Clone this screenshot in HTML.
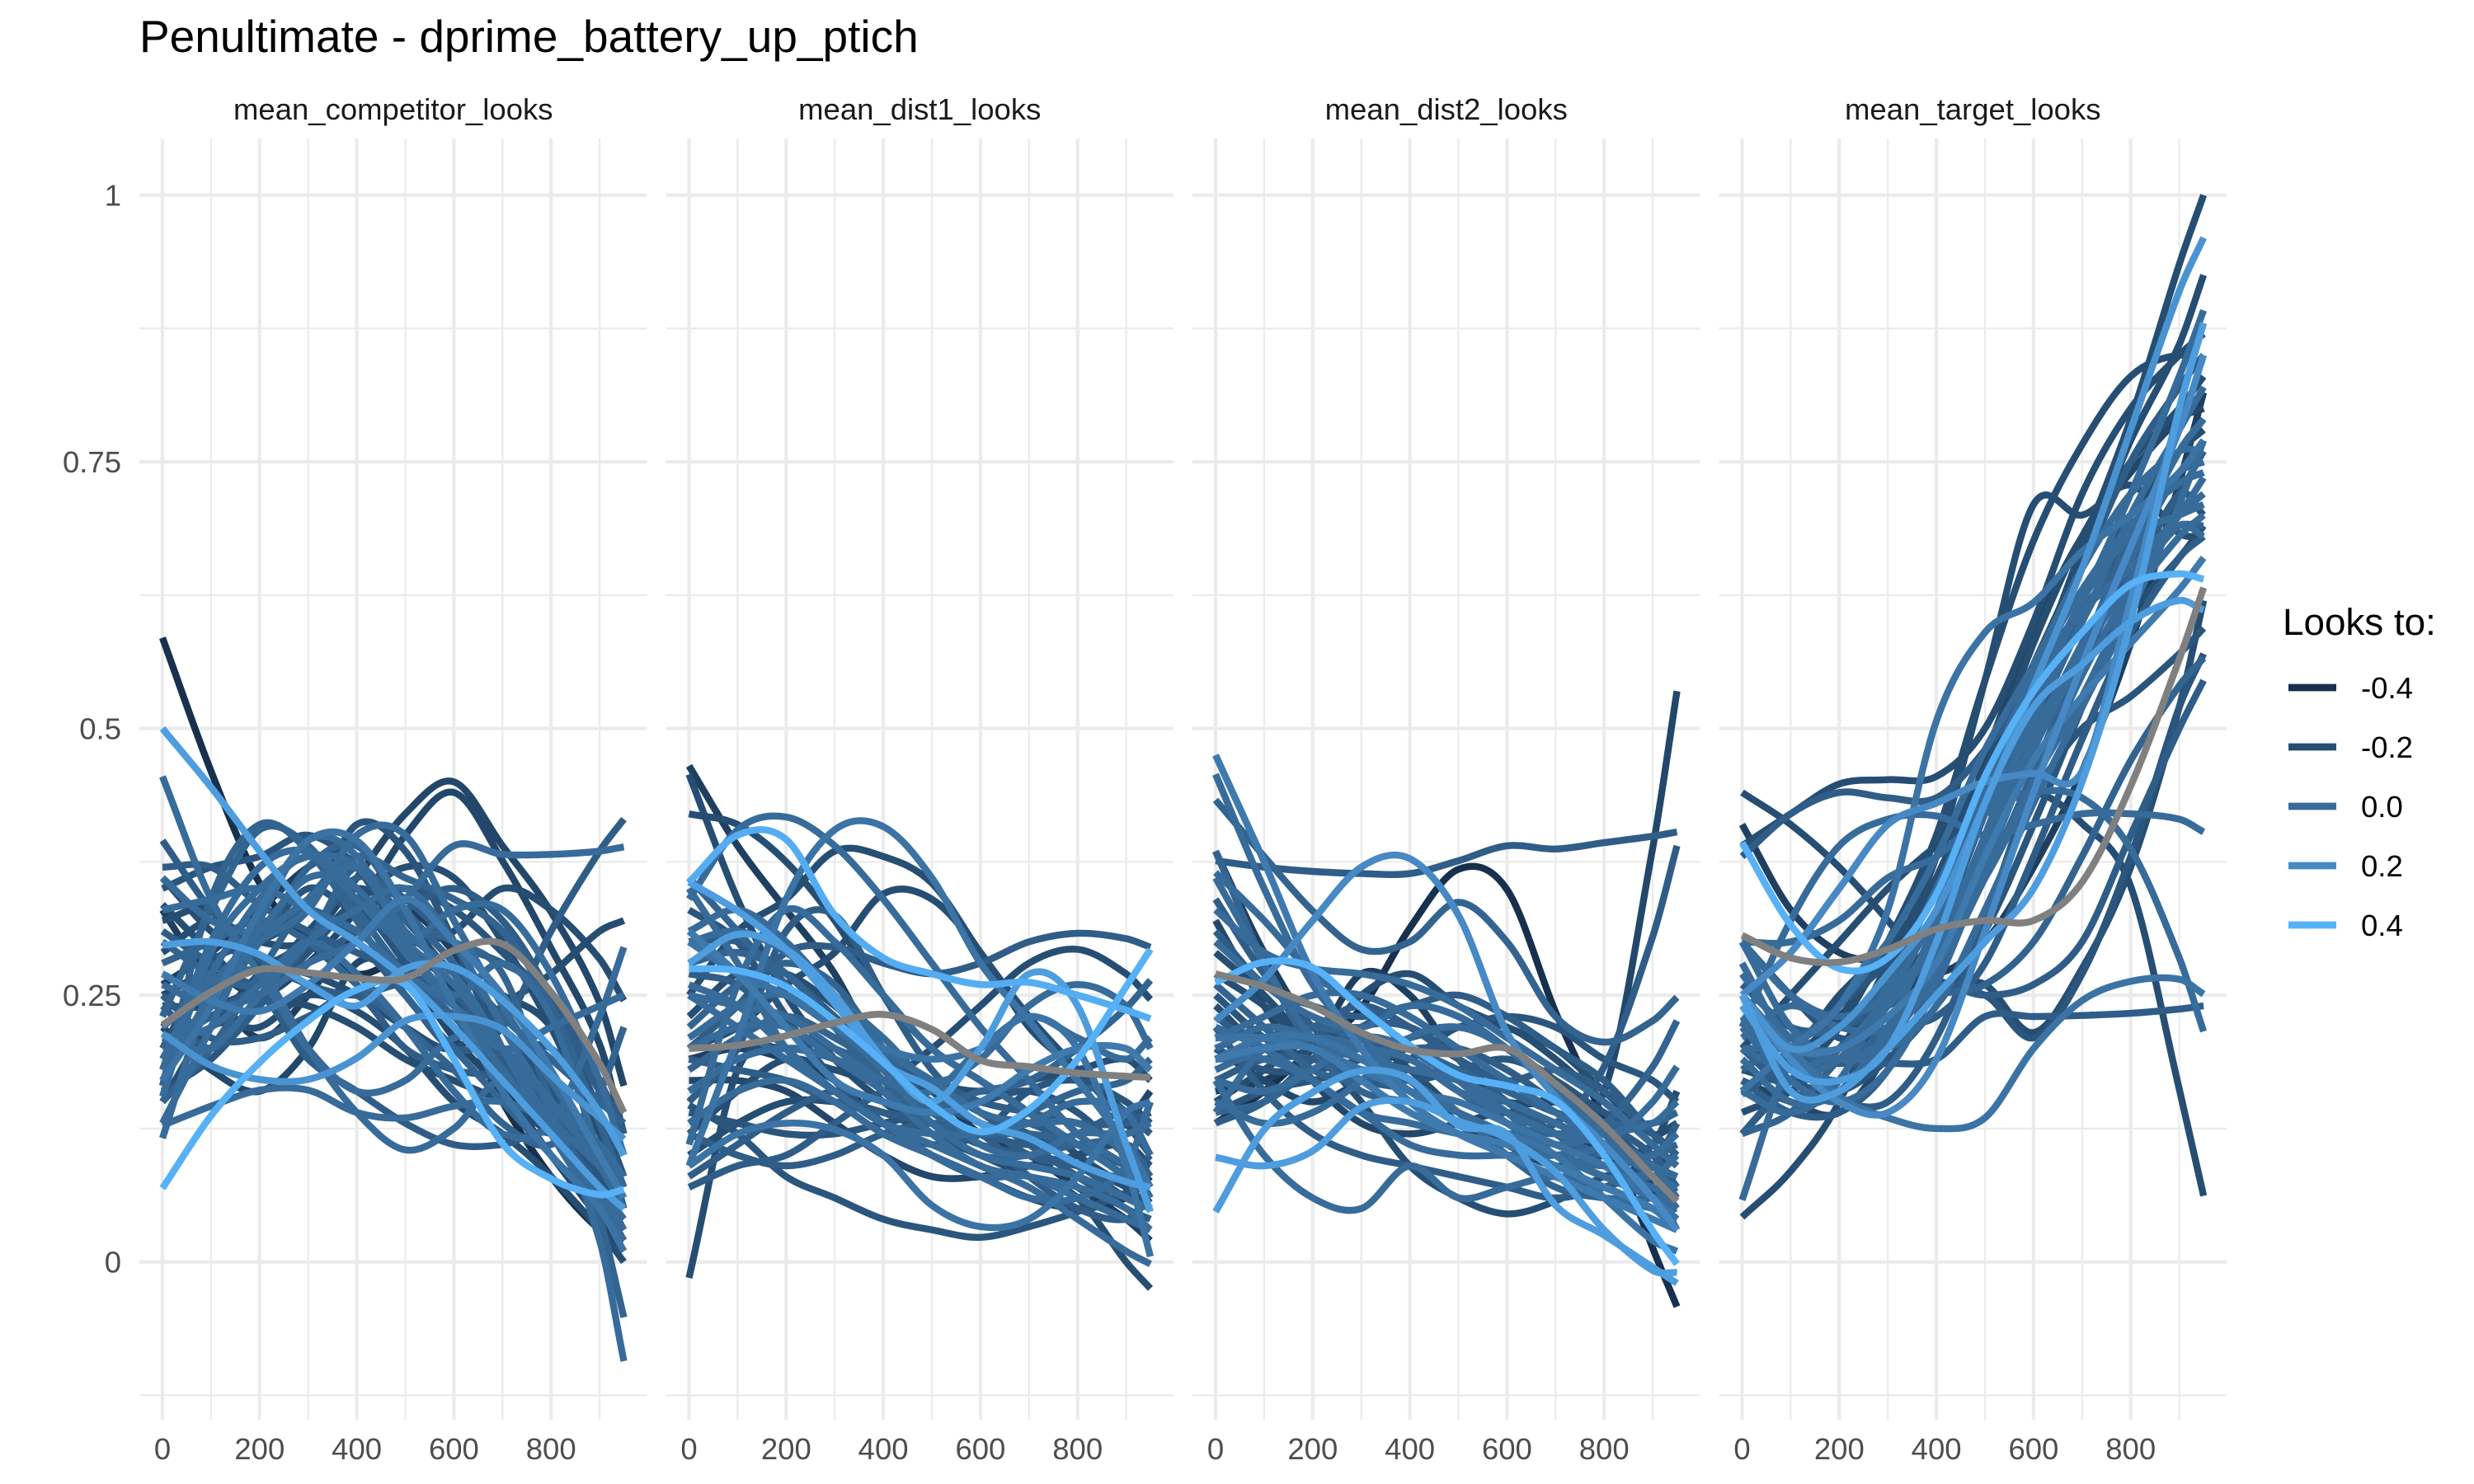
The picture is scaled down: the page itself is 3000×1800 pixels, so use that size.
<!DOCTYPE html>
<html lang="en">
<head>
<meta charset="utf-8">
<title>Penultimate - dprime_battery_up_ptich</title>
<style>
html,body{margin:0;padding:0;background:#fff}
svg{display:block;font-family:"Liberation Sans",Arial,sans-serif}
</style>
</head>
<body>
<svg id="chart" xmlns="http://www.w3.org/2000/svg" width="3000" height="1800" viewBox="0 0 3000 1800">
<rect width="3000" height="1800" fill="#ffffff"/>
<text x="169" y="63" font-size="55" fill="#000">Penultimate - dprime_battery_up_ptich</text>
<g id="panels"></g>
<g id="legend">
<text x="2768" y="770" font-size="45.8" fill="#000">Looks to:</text>
</g>
</svg>
<script>
const timeBins = [0,100,200,300,400,500,600,700,800,900,950];
const xMajorTicks = [0,200,400,600,800];
const xMinorTicks = [100,300,500,700,900];
const yMajorTicks = [0,0.25,0.5,0.75,1];
const yMinorTicks = [-0.125,0.125,0.375,0.625,0.875];
const yTickLabels = ['0','0.25','0.5','0.75','1'];
const facetNames = ['mean_competitor_looks','mean_dist1_looks','mean_dist2_looks','mean_target_looks'];
const legendValues = [-0.4,-0.2,0,0.2,0.4];
const legendLabels = ['-0.4','-0.2','0.0','0.2','0.4'];
const meanColor = '#808080';

const competitorMean = [.222,.253,.274,.271,.266,.266,.292,.298,.253,.186,.14];
const competitorTones = [-.4,-.3,-.3,-.25,-.25,-.2,-.2,-.15,0,-.1,0,0,-.05,-.05,0,.05,-.05,0,-.1,-.1,-.15,0,-.2,0,0,-.1,-.2,-.1,0,-.05,0,.1,0,0,-.25,.3,.3,.25,.42,-.1,-.15,-.05,-.2,0,-.1,-.2,0,-.05,-.15];
const competitorLooks = [
[.585,.46,.355,.3,.27,.28,.24,.15,.08,.03,.02],
[.33,.26,.21,.25,.31,.33,.29,.22,.16,.1,.06],
[.26,.29,.33,.37,.39,.33,.25,.17,.1,.06,.04],
[.19,.22,.27,.3,.36,.42,.45,.39,.328,.243,.165],
[.25,.27,.25,.28,.33,.4,.44,.376,.294,.204,.12],
[.36,.31,.28,.3,.33,.3,.31,.35,.33,.284,.245],
[.32,.33,.28,.27,.25,.22,.2,.24,.27,.31,.32],
[.2,.28,.3,.33,.41,.385,.3,.2,.13,.08,.05],
[.17,.25,.3,.33,.4,.4,.32,.24,.17,.1,.07],
[.17,.25,.3,.33,.3,.25,.2,.22,.31,.385,.415],
[.26,.24,.25,.28,.3,.34,.39,.382,.382,.385,.389],
[.455,.34,.27,.2,.16,.17,.21,.2,.15,.09,.05],
[.165,.34,.41,.385,.32,.25,.2,.15,.1,.05,.02],
[.23,.33,.405,.39,.33,.27,.23,.18,.13,.09,.06],
[.13,.22,.32,.395,.38,.3,.24,.18,.12,.07,.04],
[.17,.24,.33,.395,.395,.33,.24,.16,.1,.05,.01],
[.3,.27,.26,.3,.37,.32,.3,.27,.15,.04,-.052],
[.21,.2,.25,.3,.33,.35,.3,.22,.14,.02,-.093],
[.395,.33,.285,.26,.25,.26,.24,.19,.13,.06,.02],
[.37,.37,.335,.31,.29,.27,.25,.2,.14,.09,.06],
[.35,.37,.38,.4,.37,.3,.26,.22,.16,.1,.08],
[.33,.34,.35,.33,.31,.27,.24,.2,.15,.11,.08],
[.335,.29,.25,.24,.22,.19,.17,.15,.12,.08,.06],
[.128,.146,.161,.161,.14,.135,.146,.15,.13,.09,.07],
[.116,.25,.27,.2,.14,.105,.125,.17,.12,.06,.03],
[.2,.23,.25,.19,.16,.13,.11,.11,.12,.07,.03],
[.15,.22,.22,.25,.235,.2,.15,.12,.08,.03,0],
[.25,.21,.21,.23,.25,.2,.18,.17,.13,.06,.03],
[.21,.22,.26,.3,.27,.22,.16,.12,.13,.23,.295],
[.28,.3,.32,.3,.26,.22,.18,.13,.11,.16,.22],
[.36,.32,.31,.34,.37,.3,.24,.2,.22,.24,.25],
[.27,.245,.235,.26,.3,.34,.3,.25,.18,.1,.06],
[.18,.3,.37,.385,.35,.3,.26,.2,.13,.06,.03],
[.155,.29,.35,.38,.37,.31,.27,.2,.12,.05,.02],
[.22,.18,.16,.2,.28,.27,.21,.16,.1,.04,.01],
[.5,.445,.385,.33,.3,.265,.22,.17,.12,.07,.05],
[.297,.3,.288,.26,.24,.275,.276,.245,.2,.14,.1],
[.214,.184,.171,.171,.191,.226,.23,.218,.175,.135,.115],
[.069,.137,.187,.226,.255,.26,.19,.111,.078,.063,.068],
[.24,.2,.24,.3,.36,.34,.3,.28,.25,.17,.12],
[.27,.25,.3,.35,.33,.35,.33,.29,.24,.14,.08],
[.15,.2,.27,.34,.38,.36,.34,.31,.24,.13,.07],
[.29,.32,.3,.3,.34,.37,.36,.3,.22,.12,.07],
[.19,.27,.34,.38,.34,.3,.33,.33,.27,.17,.1],
[.31,.28,.26,.28,.31,.33,.35,.32,.25,.16,.14],
[.24,.24,.26,.31,.35,.32,.27,.25,.22,.13,.05],
[.22,.26,.31,.36,.35,.29,.25,.28,.23,.1,.05],
[.2,.24,.3,.37,.39,.33,.28,.23,.19,.15,.13],
[.16,.19,.24,.29,.33,.28,.22,.2,.2,.14,.1]
];

const distOneMean = [.2,.203,.212,.224,.232,.218,.189,.183,.177,.174,.173];
const distOneTones = [-.3,-.2,-.2,0,.05,.38,-.2,-.2,-.1,-.1,-.2,-.05,.3,.42,.3,.05,-.15,-.2,0,0,.05,0,0,.1,-.1,-.1,-.3,-.25,0,-.1,0,-.05,-.15,0,0,0,-.1,-.2,-.05,0,-.15,-.1,0,-.05,-.2,-.1];
const distOneLooks = [
[.465,.39,.33,.27,.19,.16,.12,.1,.07,.04,.02],
[.457,.34,.25,.19,.15,.12,.1,.08,.06,0,-.025],
[.42,.41,.375,.32,.25,.2,.17,.14,.1,.07,.05],
[.34,.405,.417,.39,.34,.28,.22,.17,.12,.09,.07],
[.09,.21,.34,.405,.408,.36,.28,.226,.17,.11,.07],
[.356,.4,.396,.325,.285,.27,.26,.262,.25,.236,.228],
[.25,.31,.34,.385,.38,.355,.29,.23,.18,.13,.1],
[.2,.22,.26,.29,.345,.34,.29,.22,.18,.14,.12],
[.15,.2,.31,.325,.25,.18,.14,.13,.11,.09,.08],
[.2,.24,.29,.295,.28,.27,.28,.3,.308,.303,.295],
[.12,.16,.19,.18,.17,.2,.24,.28,.293,.27,.246],
[.22,.26,.28,.26,.2,.15,.16,.17,.2,.238,.264],
[.28,.307,.293,.25,.19,.15,.2,.27,.24,.11,.047],
[.275,.273,.258,.226,.187,.147,.122,.143,.19,.258,.293],
[.356,.329,.293,.242,.187,.163,.13,.116,.092,.075,.07],
[.09,.12,.13,.124,.1,.053,.033,.04,.08,.14,.15],
[.147,.12,.08,.06,.04,.03,.023,.033,.047,.065,.076],
[-.015,.18,.2,.19,.17,.16,.13,.12,.09,.07,.05],
[.11,.26,.33,.3,.25,.2,.17,.14,.11,.08,.06],
[.35,.28,.2,.16,.13,.11,.09,.07,.04,.01,-.002],
[.3,.27,.25,.22,.2,.19,.2,.23,.2,.09,.005],
[.3,.31,.29,.25,.21,.17,.19,.24,.26,.24,.2],
[.25,.24,.23,.2,.17,.16,.2,.23,.21,.19,.21],
[.31,.27,.22,.17,.15,.14,.15,.18,.2,.2,.18],
[.07,.09,.1,.13,.16,.17,.14,.11,.08,.05,.04],
[.08,.11,.14,.16,.15,.13,.11,.1,.09,.06,.05],
[.19,.2,.19,.17,.13,.1,.08,.06,.05,.06,.08],
[.17,.17,.16,.13,.1,.08,.08,.09,.1,.13,.16],
[.13,.16,.17,.15,.12,.1,.08,.06,.06,.09,.15],
[.19,.18,.17,.15,.14,.13,.12,.11,.12,.14,.12],
[.25,.22,.19,.16,.13,.12,.12,.13,.15,.14,.1],
[.28,.29,.27,.22,.16,.13,.1,.1,.11,.11,.08],
[.33,.3,.23,.17,.13,.11,.12,.16,.17,.15,.13],
[.21,.24,.25,.22,.18,.13,.1,.09,.08,.06,.05],
[.2,.22,.22,.19,.16,.12,.09,.08,.07,.05,.03],
[.26,.24,.2,.16,.13,.1,.08,.08,.06,.04,.03],
[.3,.3,.27,.23,.19,.17,.15,.14,.13,.13,.14],
[.23,.27,.27,.24,.2,.17,.16,.17,.18,.19,.17],
[.18,.21,.23,.21,.18,.14,.12,.14,.16,.17,.19],
[.31,.33,.3,.25,.2,.17,.14,.13,.13,.1,.06],
[.14,.13,.12,.12,.13,.14,.15,.16,.14,.1,.09],
[.27,.26,.22,.2,.18,.15,.13,.1,.09,.08,.1],
[.16,.19,.2,.19,.17,.15,.11,.1,.12,.12,.13],
[.36,.31,.26,.22,.17,.13,.12,.12,.11,.08,.07],
[.1,.13,.15,.15,.14,.12,.1,.09,.1,.11,.09],
[.12,.1,.09,.1,.12,.13,.12,.08,.05,.04,.06]
];

const distTwoMean = [.27,.258,.24,.215,.199,.195,.2,.167,.128,.08,.057];
const distTwoTones = [.1,0,-.05,-.1,.2,-.4,-.25,-.1,-.05,0,.42,.3,.3,0,-.2,-.05,-.3,0,0,-.1,0,-.2,-.15,-.05,0,0,.05,0,-.1,-.2,-.1,.1,.05,0,-.15,-.3,-.1,0,-.2,-.05,-.15,0,-.1,0,-.25,0];
const distTwoLooks = [
[.475,.375,.27,.2,.15,.12,.1,.08,.06,.04,.03],
[.457,.35,.26,.21,.17,.14,.1,.08,.06,.05,.04],
[.433,.38,.329,.293,.3,.337,.3,.23,.206,.226,.248],
[.376,.37,.366,.364,.364,.376,.39,.387,.393,.399,.403],
[.226,.265,.32,.37,.378,.325,.215,.155,.11,.06,.03],
[.13,.16,.2,.238,.313,.368,.349,.234,.132,.013,-.042],
[.2,.17,.15,.17,.2,.17,.15,.15,.16,.388,.535],
[.17,.19,.19,.17,.16,.13,.12,.13,.183,.305,.39],
[.14,.15,.18,.2,.19,.16,.13,.12,.13,.183,.226],
[.22,.2,.17,.14,.11,.1,.1,.1,.11,.15,.183],
[.262,.281,.276,.238,.203,.175,.165,.151,.1,.029,-.002],
[.098,.09,.104,.145,.15,.132,.116,.084,.03,-.008,-.01],
[.047,.124,.159,.179,.171,.128,.12,.053,.025,-.005,-.02],
[.17,.1,.06,.05,.09,.06,.07,.08,.07,.05,.05],
[.29,.25,.2,.15,.09,.06,.045,.057,.08,.09,.1],
[.385,.28,.2,.16,.15,.14,.1,.07,.06,.06,.07],
[.385,.29,.22,.2,.17,.13,.1,.08,.07,.05,.04],
[.365,.32,.27,.24,.2,.17,.14,.1,.09,.08,.1],
[.33,.29,.275,.27,.26,.24,.21,.18,.15,.11,.09],
[.31,.26,.24,.23,.24,.25,.23,.2,.17,.12,.1],
[.21,.23,.25,.25,.23,.2,.17,.14,.11,.08,.05],
[.24,.2,.2,.25,.27,.24,.22,.2,.16,.12,.13],
[.2,.18,.18,.19,.21,.22,.23,.22,.19,.17,.15],
[.19,.21,.22,.21,.2,.18,.16,.14,.13,.13,.14],
[.2,.22,.21,.19,.18,.17,.15,.13,.11,.09,.08],
[.18,.2,.21,.2,.16,.14,.12,.1,.08,.06,.05],
[.21,.21,.2,.18,.16,.15,.13,.11,.09,.06,.04],
[.19,.19,.17,.14,.13,.12,.11,.1,.09,.1,.12],
[.22,.16,.12,.1,.09,.08,.07,.06,.07,.09,.13],
[.15,.18,.21,.21,.18,.14,.11,.09,.1,.11,.16],
[.13,.15,.19,.22,.22,.19,.15,.12,.09,.07,.06],
[.19,.2,.2,.17,.14,.12,.11,.09,.07,.05,.03],
[.19,.21,.21,.19,.16,.13,.12,.1,.06,.02,.01],
[.14,.2,.21,.2,.19,.16,.14,.12,.11,.08,.06],
[.14,.16,.17,.18,.17,.18,.19,.17,.14,.12,.1],
[.16,.17,.2,.27,.25,.19,.15,.15,.12,.07,.03],
[.34,.27,.22,.2,.2,.2,.18,.15,.13,.1,.07],
[.3,.26,.23,.22,.24,.23,.2,.16,.12,.09,.06],
[.27,.24,.2,.18,.19,.22,.22,.19,.15,.11,.09],
[.26,.22,.18,.17,.18,.17,.14,.12,.1,.1,.11],
[.25,.21,.19,.22,.24,.23,.2,.17,.13,.09,.08],
[.17,.16,.18,.21,.2,.17,.13,.11,.12,.13,.15],
[.23,.2,.22,.24,.22,.19,.17,.18,.16,.12,.1],
[.36,.28,.21,.19,.17,.14,.12,.1,.08,.07,.05],
[.32,.24,.17,.13,.12,.13,.14,.13,.1,.06,.04],
[.15,.13,.14,.17,.21,.22,.2,.16,.12,.08,.07]
];

const targetMean = [.306,.285,.281,.293,.312,.32,.32,.356,.446,.565,.632];
const targetTones = [-.2,.25,-.2,0,.3,-.2,-.2,.05,.42,-.2,-.3,-.2,-.1,0,.2,.05,-.1,-.2,0,-.2,0,-.15,-.1,0,0,0,.2,.1,.3,-.1,-.25,-.05,-.15,-.05,0,0,0,-.2,-.1,0,0,-.05,-.15,-.2,0,-.1,0];
const targetLooks = [
[.22,.2,.25,.3,.38,.46,.55,.67,.79,.935,1],
[.25,.2,.22,.27,.33,.43,.54,.65,.78,.91,.96],
[.18,.17,.2,.27,.36,.46,.56,.66,.77,.86,.925],
[.2,.18,.2,.25,.33,.44,.53,.62,.72,.83,.892],
[.25,.16,.16,.2,.25,.3,.35,.45,.6,.8,.88],
[.12,.17,.22,.3,.4,.545,.676,.766,.83,.85,.84],
[.2,.19,.2,.28,.38,.545,.71,.7,.728,.683,.68],
[.16,.2,.24,.33,.507,.59,.618,.666,.7,.74,.77],
[.393,.316,.275,.285,.345,.455,.535,.59,.635,.645,.64],
[.44,.41,.37,.32,.265,.26,.215,.275,.37,.52,.62],
[.41,.33,.29,.28,.27,.3,.37,.46,.58,.73,.815],
[.39,.42,.448,.452,.455,.5,.6,.72,.8,.85,.87],
[.38,.42,.44,.435,.435,.48,.55,.65,.75,.82,.85],
[.22,.32,.39,.415,.418,.4,.41,.42,.42,.415,.403],
[.25,.29,.35,.41,.43,.45,.458,.46,.62,.8,.88],
[.25,.2,.155,.135,.125,.135,.2,.245,.263,.265,.251],
[.157,.185,.186,.186,.19,.23,.23,.231,.233,.237,.24],
[.2,.25,.3,.35,.39,.42,.44,.411,.352,.162,.062],
[.3,.3,.32,.36,.38,.42,.44,.435,.387,.285,.216],
[.042,.085,.15,.26,.36,.46,.58,.68,.75,.8,.83],
[.058,.19,.24,.3,.38,.48,.56,.65,.72,.76,.76],
[.3,.25,.21,.22,.25,.25,.21,.27,.38,.52,.57],
[.26,.22,.22,.24,.26,.25,.26,.3,.4,.5,.545],
[.23,.18,.19,.24,.3,.4,.52,.62,.68,.7,.71],
[.27,.21,.2,.24,.31,.42,.5,.57,.64,.7,.735],
[.22,.17,.15,.18,.26,.37,.48,.57,.67,.76,.79],
[.25,.19,.15,.14,.19,.31,.44,.56,.67,.78,.85],
[.24,.2,.2,.23,.28,.38,.47,.53,.58,.63,.66],
[.24,.18,.17,.2,.3,.43,.52,.56,.6,.62,.611],
[.2,.16,.15,.15,.21,.32,.45,.56,.65,.72,.76],
[.17,.15,.14,.2,.32,.47,.59,.68,.74,.79,.8],
[.18,.21,.22,.26,.33,.42,.52,.61,.66,.69,.69],
[.16,.2,.24,.28,.32,.37,.44,.5,.53,.57,.594],
[.12,.14,.19,.23,.25,.26,.3,.38,.47,.54,.566],
[.2,.2,.19,.21,.27,.36,.45,.53,.62,.68,.7],
[.21,.24,.22,.22,.27,.39,.49,.58,.66,.74,.75],
[.3,.25,.23,.25,.3,.36,.45,.55,.63,.69,.68],
[.14,.16,.2,.25,.31,.42,.53,.62,.7,.76,.78],
[.17,.14,.14,.18,.27,.38,.5,.6,.68,.74,.75],
[.28,.2,.17,.21,.29,.4,.51,.6,.7,.78,.82],
[.19,.15,.16,.22,.32,.44,.55,.63,.69,.73,.74],
[.23,.2,.19,.22,.28,.36,.46,.57,.68,.76,.79],
[.2,.17,.16,.19,.24,.31,.41,.52,.63,.72,.7],
[.25,.2,.23,.29,.36,.44,.5,.56,.61,.66,.69],
[.16,.14,.17,.26,.35,.45,.55,.61,.65,.7,.72],
[.12,.17,.2,.22,.23,.28,.38,.49,.59,.66,.68],
[.3,.22,.19,.2,.24,.33,.43,.52,.61,.71,.77]
];

const facetTones = [competitorTones, distOneTones, distTwoTones, targetTones];
const facetLooks = [competitorLooks, distOneLooks, distTwoLooks, targetLooks];
const facetMeans = [competitorMean, distOneMean, distTwoMean, targetMean];

const SVG_NS = 'http://www.w3.org/2000/svg';
const PANEL_FIRST_LEFT = 169, PANEL_PITCH = 638.5, PANEL_WIDTH = 615.5;
const PANEL_TOP = 168, PANEL_BOTTOM = 1722;
const X_PAD = 28, X_PER_UNIT = 0.589;
const Y_ZERO = 1530.6, Y_PER_UNIT = 1294;
const LINE_WIDTH = 8.4;

function panelLeft(i){ return PANEL_FIRST_LEFT + i * PANEL_PITCH; }
function xScale(i, t){ return panelLeft(i) + X_PAD + t * X_PER_UNIT; }
function yScale(v){ return Y_ZERO - v * Y_PER_UNIT; }

function toneColor(t){
  const stops = [[-.4,[22,48,77]],[-.2,[38,78,115]],[0,[55,107,154]],[.2,[70,137,196]],[.4,[86,177,247]]];
  const c = Math.max(-.4, Math.min(.44, t));
  for (let k = 0; k < stops.length - 1; k++) {
    if (c <= stops[k+1][0] || k === stops.length - 2) {
      const f = Math.min(1, (c - stops[k][0]) / (stops[k+1][0] - stops[k][0]));
      const rgb = stops[k][1].map((a, j) => Math.round(a + (stops[k+1][1][j] - a) * f));
      return 'rgb(' + rgb.join(',') + ')';
    }
  }
}

function smoothPath(i, values){
  const px = timeBins.map(t => xScale(i, t));
  const py = values.map(yScale);
  const n = px.length;
  const slope = [];
  for (let k = 0; k < n; k++) {
    const a = Math.max(0, k - 1), b = Math.min(n - 1, k + 1);
    slope.push((py[b] - py[a]) / (px[b] - px[a]));
  }
  let d = 'M' + px[0].toFixed(1) + ' ' + py[0].toFixed(1);
  for (let k = 0; k < n - 1; k++) {
    const h = (px[k+1] - px[k]) / 3;
    d += 'C' + (px[k] + h).toFixed(1) + ' ' + (py[k] + slope[k] * h).toFixed(1) + ' ' +
         (px[k+1] - h).toFixed(1) + ' ' + (py[k+1] - slope[k+1] * h).toFixed(1) + ' ' +
         px[k+1].toFixed(1) + ' ' + py[k+1].toFixed(1);
  }
  return d;
}

function make(tag, parent, props){
  const el = document.createElementNS(SVG_NS, tag);
  for (const key in props) el.setAttribute(key, props[key]);
  parent.appendChild(el);
  return el;
}

function gridline(panel, name, x1, x2, y1, y2, width){
  const g = make('line', panel, {x1: x1, x2: x2, y1: y1, y2: y2, stroke: '#ebebeb', 'stroke-width': width});
  
  
}

const panelsRoot = document.getElementById('panels');

facetNames.forEach((name, i) => {
  const panel = make('g', panelsRoot, {});
  
  

  const strip = make('text', panel, {x: panelLeft(i) + PANEL_WIDTH / 2, y: 145, 'font-size': 36.5, 'text-anchor': 'middle', fill: '#1a1a1a'});
  
  
  strip.textContent = name;

  const left = panelLeft(i), right = left + PANEL_WIDTH;
  yMinorTicks.forEach(v => gridline(panel, 'y-minor-gridline', left, right, yScale(v), yScale(v), 2.2));
  xMinorTicks.forEach(t => gridline(panel, 'x-minor-gridline', xScale(i, t), xScale(i, t), PANEL_TOP, PANEL_BOTTOM, 2.2));
  yMajorTicks.forEach(v => gridline(panel, 'y-major-gridline', left, right, yScale(v), yScale(v), 4.2));
  xMajorTicks.forEach(t => {
    gridline(panel, 'x-major-gridline', xScale(i, t), xScale(i, t), PANEL_TOP, PANEL_BOTTOM, 4.2);
    const lab = make('text', panel, {x: xScale(i, t), y: 1770, 'font-size': 36.5, 'text-anchor': 'middle', fill: '#4d4d4d'});
    
    
    lab.textContent = String(t);
  });

  const order = facetTones[i].map((tone, k) => k).sort((a, b) => facetTones[i][a] - facetTones[i][b]);
  order.forEach(k => {
    const line = make('path', panel, {d: smoothPath(i, facetLooks[i][k]), fill: 'none', stroke: toneColor(facetTones[i][k]), 'stroke-width': LINE_WIDTH, 'stroke-linecap': 'butt', 'stroke-linejoin': 'round'});
    
    
  });
  const mean = make('path', panel, {d: smoothPath(i, facetMeans[i]), fill: 'none', stroke: meanColor, 'stroke-width': LINE_WIDTH, 'stroke-linecap': 'butt', 'stroke-linejoin': 'round'});
  
  
});

yMajorTicks.forEach((v, n) => {
  const lab = make('text', panelsRoot, {x: 147, y: yScale(v) + 13, 'font-size': 36.5, 'text-anchor': 'end', fill: '#4d4d4d'});
  
  
  lab.textContent = yTickLabels[n];
});

const legendRoot = document.getElementById('legend');
legendValues.forEach((v, n) => {
  const y = 834 + n * 72;
  const key = make('line', legendRoot, {x1: 2775, x2: 2833, y1: y, y2: y, stroke: toneColor(v), 'stroke-width': LINE_WIDTH + 0.4});
  
  
  const lab = make('text', legendRoot, {x: 2863, y: y + 13, 'font-size': 36.5, fill: '#000'});
  
  
  lab.textContent = legendLabels[n];
});
</script>
</body>
</html>
